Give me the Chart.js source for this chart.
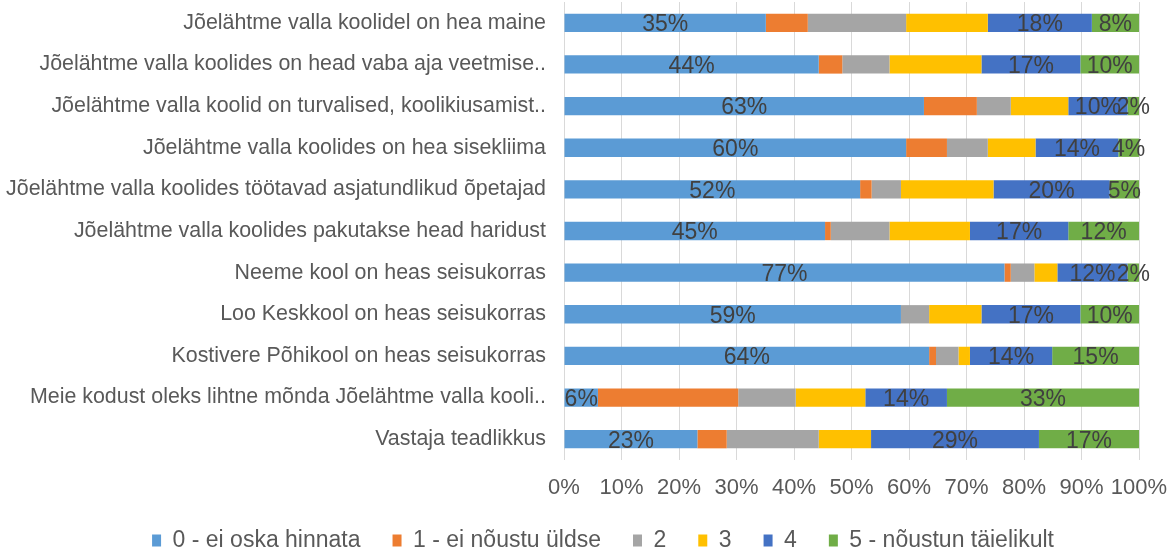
<!DOCTYPE html>
<html>
<head>
<meta charset="utf-8">
<script src="https://cdn.jsdelivr.net/npm/chart.js@4/dist/chart.umd.min.js"></script>
<style>
  html, body { margin: 0; padding: 0; background: #fff; overflow: hidden; }
</style>
</head>
<body>
<canvas id="chart_area" width="1170" height="562"></canvas>
<script>
"use strict";

// categories (top to bottom)
var categories = [
    "Jõelähtme valla koolidel on hea maine",
    "Jõelähtme valla koolides on head vaba aja veetmise..",
    "Jõelähtme valla koolid on turvalised, koolikiusamist..",
    "Jõelähtme valla koolides on hea sisekliima",
    "Jõelähtme valla koolides töötavad asjatundlikud õpetajad",
    "Jõelähtme valla koolides pakutakse head haridust",
    "Neeme kool on heas seisukorras",
    "Loo Keskkool on heas seisukorras",
    "Kostivere Põhikool on heas seisukorras",
    "Meie kodust oleks lihtne mõnda Jõelähtme valla kooli..",
    "Vastaja teadlikkus"
];

// share of answers, %
var score0 = [35.1, 44.3, 62.6, 59.5, 51.5, 45.4, 76.6, 58.6, 63.5, 5.9, 23.2];
var score1 = [7.3, 4.1, 9.2, 7.1, 2.0, 1.0, 1.1, 0, 1.2, 24.4, 5.1];
var score2 = [17.1, 8.2, 5.9, 7.1, 5.1, 10.2, 4.1, 4.9, 3.9, 10.0, 16.0];
var score3 = [14.2, 16.0, 10.0, 8.3, 16.1, 14.0, 4.0, 9.1, 2.0, 12.1, 9.1];
var score4 = [18.1, 17.2, 10.3, 14.4, 20.2, 17.1, 12.2, 17.2, 14.3, 14.2, 29.2];
var score5 = [8.2, 10.2, 2.0, 3.6, 5.1, 12.3, 2.0, 10.2, 15.1, 33.4, 17.4];

var seriesNames = ["0 - ei oska hinnata", "1 - ei nõustu üldse", "2", "3", "4", "5 - nõustun täielikult"];
var seriesColors = ["#5B9BD5", "#ED7D31", "#A5A5A5", "#FFC000", "#4472C4", "#70AD47"];
var labelledSeries = [0, 4, 5];

var fontFamily = '"Liberation Sans", Arial, sans-serif';

// percent labels in the middle of bars
var barLabels = {
    id: 'barLabels',
    afterDatasetsDraw: function (chart) {
        var ctx = chart.ctx;
        ctx.save();
        ctx.font = '23px ' + fontFamily;
        ctx.fillStyle = '#404040';
        ctx.textAlign = 'center';
        ctx.textBaseline = 'middle';
        chart.data.datasets.forEach(function (ds, i) {
            if (labelledSeries.indexOf(i) < 0) return;
            chart.getDatasetMeta(i).data.forEach(function (bar, j) {
                var v = ds.data[j];
                if (!v) return;
                var p = bar.getCenterPoint();
                ctx.fillText(Math.round(v) + '%', p.x, p.y + 2);
            });
        });
        ctx.restore();
    }
};

// legend sits a bit right of the canvas centre
var legendShift = {
    id: 'legendShift',
    afterLayout: function (chart) {
        if (!chart.legend) return;
        chart.legend.left += 36;
        chart.legend.right += 31;
    }
};

var allSeries = [score0, score1, score2, score3, score4, score5];
var datasets = allSeries.map(function (values, i) {
    return {
        label: seriesNames[i],
        data: values,
        backgroundColor: seriesColors[i],
        borderWidth: 0,
        barPercentage: 0.44,
        categoryPercentage: 1.0
    };
});

var chartArea = document.getElementById("chart_area");
var surveyChart = new Chart(chartArea, {
    type: 'bar',
    data: {
        labels: categories,
        datasets: datasets
    },
    plugins: [barLabels, legendShift],
    options: {
        indexAxis: 'y',
        responsive: false,
        animation: false,
        layout: { padding: { top: 2, left: 0, right: 31, bottom: 0 } },
        scales: {
            x: {
                stacked: true,
                min: 0,
                max: 100,
                grid: { color: '#D9D9D9', drawTicks: false },
                border: { display: false },
                ticks: {
                    stepSize: 10,
                    autoSkip: false,
                    maxRotation: 0,
                    padding: 15,
                    color: '#595959',
                    font: { family: fontFamily, size: 22 },
                    callback: function (v) { return v + '%'; }
                },
                afterFit: function (scale) {
                    scale.height = 37;
                    scale.paddingLeft = 0;
                    scale.paddingRight = 0;
                }
            },
            y: {
                stacked: true,
                grid: { display: false, drawTicks: false },
                border: { display: false },
                ticks: {
                    padding: 18,
                    autoSkip: false,
                    color: '#595959',
                    font: { family: fontFamily, size: 21.4 }
                },
                afterFit: function (scale) {
                    scale.width = 564;
                    scale.paddingTop = 0;
                    scale.paddingBottom = 0;
                }
            }
        },
        plugins: {
            tooltip: { enabled: false },
            legend: {
                position: 'bottom',
                labels: {
                    boxWidth: 9,
                    boxHeight: 12,
                    padding: 32,
                    color: '#595959',
                    font: { family: fontFamily, size: 23 }
                }
            }
        }
    }
});
</script>
</body>
</html>
